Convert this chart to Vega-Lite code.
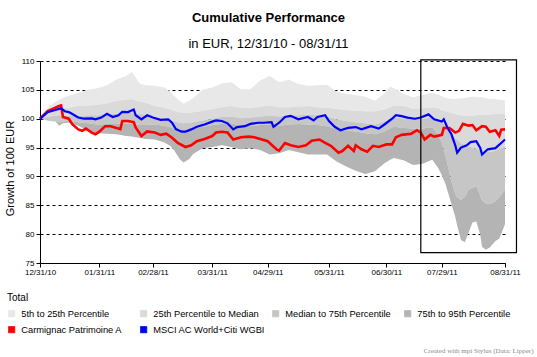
{
  "$schema": "https://vega.github.io/schema/vega-lite/v6.json",
  "width": 465,
  "height": 202,
  "autosize": "none",
  "padding": {"left": 40, "top": 61, "right": 32, "bottom": 94},
  "background": "white",
  "title": {
    "text": "Cumulative Performance",
    "subtitle": "in EUR, 12/31/10 - 08/31/11",
    "font": "Liberation Sans",
    "fontSize": 13,
    "fontWeight": "bold",
    "color": "black",
    "subtitleFont": "Liberation Sans",
    "subtitleFontSize": 13,
    "subtitleColor": "black",
    "anchor": "middle",
    "offset": 6,
    "subtitlePadding": 13,
    "dx": -4
  },
  "datasets": {
    "bands": [
      {"date": "2010-12-31", "p5": 100, "p25": 100, "p50": 100, "p75": 100, "p95": 100},
      {"date": "2011-01-05", "p5": 102.3, "p25": 101.0, "p50": 100.4, "p75": 99.7, "p95": 99.6},
      {"date": "2011-01-08", "p5": 102.9, "p25": 101.4, "p50": 100.5, "p75": 99.5, "p95": 99.5},
      {"date": "2011-01-10", "p5": 103.3, "p25": 101.6, "p50": 100.6, "p75": 99.4, "p95": 98.8},
      {"date": "2011-01-12", "p5": 103.6, "p25": 101.8, "p50": 100.5, "p75": 99.5, "p95": 99.2},
      {"date": "2011-01-15", "p5": 104.0, "p25": 101.9, "p50": 100.5, "p75": 99.6, "p95": 99.3},
      {"date": "2011-01-20", "p5": 104.5, "p25": 102.2, "p50": 100.5, "p75": 99.4, "p95": 98.8},
      {"date": "2011-01-25", "p5": 105.0, "p25": 102.3, "p50": 100.6, "p75": 99.2, "p95": 97.9},
      {"date": "2011-01-30", "p5": 105.3, "p25": 102.4, "p50": 100.6, "p75": 99.0, "p95": 97.5},
      {"date": "2011-02-04", "p5": 105.8, "p25": 102.7, "p50": 100.7, "p75": 99.1, "p95": 97.4},
      {"date": "2011-02-09", "p5": 106.8, "p25": 103.1, "p50": 100.9, "p75": 99.1, "p95": 97.3},
      {"date": "2011-02-14", "p5": 107.4, "p25": 103.3, "p50": 101.0, "p75": 99.2, "p95": 97.0},
      {"date": "2011-02-17", "p5": 108.1, "p25": 103.4, "p50": 101.0, "p75": 99.1, "p95": 96.9},
      {"date": "2011-02-19", "p5": 107.2, "p25": 103.2, "p50": 100.9, "p75": 99.0, "p95": 96.8},
      {"date": "2011-02-21", "p5": 106.1, "p25": 103.0, "p50": 100.8, "p75": 98.9, "p95": 96.7},
      {"date": "2011-02-24", "p5": 105.8, "p25": 102.8, "p50": 100.7, "p75": 98.9, "p95": 96.5},
      {"date": "2011-03-01", "p5": 105.7, "p25": 102.2, "p50": 100.2, "p75": 99.0, "p95": 96.4},
      {"date": "2011-03-06", "p5": 105.4, "p25": 101.9, "p50": 100.0, "p75": 98.8, "p95": 95.9},
      {"date": "2011-03-09", "p5": 104.7, "p25": 101.6, "p50": 99.7, "p75": 98.5, "p95": 95.3},
      {"date": "2011-03-11", "p5": 104.0, "p25": 101.4, "p50": 99.5, "p75": 98.3, "p95": 94.6},
      {"date": "2011-03-14", "p5": 103.1, "p25": 101.1, "p50": 99.3, "p75": 98.1, "p95": 93.0},
      {"date": "2011-03-16", "p5": 102.6, "p25": 101.0, "p50": 99.2, "p75": 98.0, "p95": 92.4},
      {"date": "2011-03-19", "p5": 103.1, "p25": 101.0, "p50": 99.3, "p75": 98.1, "p95": 93.0},
      {"date": "2011-03-21", "p5": 103.6, "p25": 101.1, "p50": 99.4, "p75": 98.2, "p95": 93.9},
      {"date": "2011-03-26", "p5": 105.0, "p25": 101.4, "p50": 99.7, "p75": 98.6, "p95": 94.9},
      {"date": "2011-03-31", "p5": 105.4, "p25": 101.7, "p50": 100.0, "p75": 98.9, "p95": 95.1},
      {"date": "2011-04-05", "p5": 106.1, "p25": 102.0, "p50": 100.3, "p75": 99.1, "p95": 95.4},
      {"date": "2011-04-10", "p5": 106.3, "p25": 102.2, "p50": 100.4, "p75": 99.2, "p95": 95.1},
      {"date": "2011-04-15", "p5": 105.1, "p25": 101.9, "p50": 100.1, "p75": 98.8, "p95": 94.7},
      {"date": "2011-04-20", "p5": 105.1, "p25": 101.8, "p50": 100.2, "p75": 98.8, "p95": 94.9},
      {"date": "2011-04-25", "p5": 106.6, "p25": 102.1, "p50": 100.4, "p75": 98.9, "p95": 94.6},
      {"date": "2011-04-30", "p5": 107.4, "p25": 102.3, "p50": 100.5, "p75": 99.0, "p95": 93.8},
      {"date": "2011-05-05", "p5": 106.3, "p25": 102.0, "p50": 100.4, "p75": 98.8, "p95": 94.0},
      {"date": "2011-05-10", "p5": 106.8, "p25": 102.0, "p50": 100.6, "p75": 99.0, "p95": 94.6},
      {"date": "2011-05-15", "p5": 106.0, "p25": 102.1, "p50": 100.6, "p75": 99.1, "p95": 94.2},
      {"date": "2011-05-20", "p5": 105.7, "p25": 102.2, "p50": 100.7, "p75": 99.0, "p95": 93.8},
      {"date": "2011-05-25", "p5": 105.8, "p25": 102.0, "p50": 100.6, "p75": 98.9, "p95": 93.8},
      {"date": "2011-05-30", "p5": 105.9, "p25": 101.9, "p50": 100.4, "p75": 98.7, "p95": 93.8},
      {"date": "2011-06-04", "p5": 104.7, "p25": 101.7, "p50": 99.9, "p75": 98.2, "p95": 92.6},
      {"date": "2011-06-09", "p5": 104.3, "p25": 101.5, "p50": 99.6, "p75": 97.9, "p95": 91.7},
      {"date": "2011-06-14", "p5": 104.1, "p25": 101.4, "p50": 99.4, "p75": 97.8, "p95": 91.0},
      {"date": "2011-06-19", "p5": 103.8, "p25": 101.3, "p50": 99.2, "p75": 97.5, "p95": 90.4},
      {"date": "2011-06-24", "p5": 103.1, "p25": 101.3, "p50": 99.0, "p75": 97.3, "p95": 90.9},
      {"date": "2011-06-29", "p5": 104.4, "p25": 101.6, "p50": 99.5, "p75": 97.8, "p95": 92.3},
      {"date": "2011-07-02", "p5": 105.6, "p25": 102.0, "p50": 99.9, "p75": 98.3, "p95": 92.9},
      {"date": "2011-07-04", "p5": 105.3, "p25": 102.3, "p50": 100.2, "p75": 98.6, "p95": 93.2},
      {"date": "2011-07-09", "p5": 104.3, "p25": 102.2, "p50": 100.1, "p75": 98.4, "p95": 92.8},
      {"date": "2011-07-14", "p5": 103.7, "p25": 101.7, "p50": 99.9, "p75": 98.3, "p95": 92.0},
      {"date": "2011-07-19", "p5": 104.1, "p25": 101.8, "p50": 100.0, "p75": 98.3, "p95": 92.2},
      {"date": "2011-07-24", "p5": 104.5, "p25": 102.0, "p50": 100.2, "p75": 98.5, "p95": 92.9},
      {"date": "2011-07-27", "p5": 104.2, "p25": 101.8, "p50": 99.8, "p75": 97.2, "p95": 91.5},
      {"date": "2011-07-29", "p5": 103.9, "p25": 101.5, "p50": 99.4, "p75": 95.8, "p95": 90.2},
      {"date": "2011-07-31", "p5": 103.6, "p25": 101.3, "p50": 98.8, "p75": 93.5, "p95": 88.6},
      {"date": "2011-08-03", "p5": 103.4, "p25": 101.0, "p50": 97.4, "p75": 89.1, "p95": 85.2},
      {"date": "2011-08-05", "p5": 103.4, "p25": 100.8, "p50": 96.6, "p75": 87.0, "p95": 83.0},
      {"date": "2011-08-06", "p5": 103.5, "p25": 100.7, "p50": 96.4, "p75": 86.4, "p95": 81.5},
      {"date": "2011-08-08", "p5": 103.5, "p25": 100.6, "p50": 95.8, "p75": 85.9, "p95": 79.0},
      {"date": "2011-08-10", "p5": 103.6, "p25": 100.5, "p50": 95.4, "p75": 86.5, "p95": 78.6},
      {"date": "2011-08-12", "p5": 103.7, "p25": 100.5, "p50": 95.2, "p75": 87.7, "p95": 80.3},
      {"date": "2011-08-14", "p5": 103.8, "p25": 100.5, "p50": 95.0, "p75": 88.0, "p95": 82.0},
      {"date": "2011-08-16", "p5": 103.8, "p25": 100.6, "p50": 94.8, "p75": 88.3, "p95": 82.2},
      {"date": "2011-08-18", "p5": 103.7, "p25": 100.7, "p50": 94.6, "p75": 86.8, "p95": 80.0},
      {"date": "2011-08-19", "p5": 103.7, "p25": 100.7, "p50": 94.4, "p75": 85.8, "p95": 77.8},
      {"date": "2011-08-21", "p5": 103.6, "p25": 100.7, "p50": 94.3, "p75": 85.3, "p95": 77.3},
      {"date": "2011-08-23", "p5": 103.4, "p25": 100.7, "p50": 94.2, "p75": 85.2, "p95": 77.7},
      {"date": "2011-08-26", "p5": 103.4, "p25": 100.8, "p50": 94.5, "p75": 85.7, "p95": 78.8},
      {"date": "2011-08-28", "p5": 103.3, "p25": 100.8, "p50": 94.8, "p75": 86.4, "p95": 79.2},
      {"date": "2011-08-31", "p5": 103.2, "p25": 100.8, "p50": 95.2, "p75": 87.7, "p95": 81.7}
    ],
    "fund": [
      {"date": "2010-12-31", "value": 100}, {"date": "2011-01-04", "value": 101.3}, {"date": "2011-01-08", "value": 101.9},
      {"date": "2011-01-10", "value": 102.2}, {"date": "2011-01-11", "value": 102.3}, {"date": "2011-01-12", "value": 100.3},
      {"date": "2011-01-15", "value": 100.0}, {"date": "2011-01-17", "value": 99.0}, {"date": "2011-01-20", "value": 98.15},
      {"date": "2011-01-22", "value": 97.9}, {"date": "2011-01-24", "value": 98.3}, {"date": "2011-01-27", "value": 97.6},
      {"date": "2011-01-29", "value": 97.3}, {"date": "2011-01-31", "value": 97.75}, {"date": "2011-02-03", "value": 98.7},
      {"date": "2011-02-06", "value": 98.7}, {"date": "2011-02-09", "value": 98.4}, {"date": "2011-02-11", "value": 98.2},
      {"date": "2011-02-12", "value": 99.6}, {"date": "2011-02-15", "value": 99.6}, {"date": "2011-02-18", "value": 99.4},
      {"date": "2011-02-19", "value": 98.5}, {"date": "2011-02-22", "value": 97.0}, {"date": "2011-02-25", "value": 97.8},
      {"date": "2011-03-01", "value": 97.6}, {"date": "2011-03-04", "value": 97.2}, {"date": "2011-03-07", "value": 97.4},
      {"date": "2011-03-10", "value": 96.7}, {"date": "2011-03-13", "value": 95.8}, {"date": "2011-03-17", "value": 95.1},
      {"date": "2011-03-20", "value": 95.4}, {"date": "2011-03-23", "value": 96.1}, {"date": "2011-03-27", "value": 96.5},
      {"date": "2011-03-31", "value": 97.0}, {"date": "2011-04-02", "value": 97.6}, {"date": "2011-04-05", "value": 97.75},
      {"date": "2011-04-08", "value": 97.6}, {"date": "2011-04-11", "value": 96.4}, {"date": "2011-04-15", "value": 96.8},
      {"date": "2011-04-19", "value": 96.9}, {"date": "2011-04-22", "value": 96.8}, {"date": "2011-04-26", "value": 96.4},
      {"date": "2011-04-29", "value": 96.1}, {"date": "2011-05-02", "value": 95.2}, {"date": "2011-05-04", "value": 94.6},
      {"date": "2011-05-05", "value": 94.5}, {"date": "2011-05-08", "value": 95.8}, {"date": "2011-05-11", "value": 95.4},
      {"date": "2011-05-15", "value": 95.1}, {"date": "2011-05-19", "value": 95.4}, {"date": "2011-05-22", "value": 96.2},
      {"date": "2011-05-26", "value": 96.4}, {"date": "2011-05-29", "value": 95.8}, {"date": "2011-06-01", "value": 95.3},
      {"date": "2011-06-05", "value": 94.1}, {"date": "2011-06-07", "value": 94.4}, {"date": "2011-06-10", "value": 95.3},
      {"date": "2011-06-13", "value": 94.4}, {"date": "2011-06-14", "value": 95.4}, {"date": "2011-06-17", "value": 94.7},
      {"date": "2011-06-20", "value": 94.3}, {"date": "2011-06-23", "value": 95.3}, {"date": "2011-06-26", "value": 95.1},
      {"date": "2011-06-30", "value": 95.55}, {"date": "2011-07-03", "value": 95.55}, {"date": "2011-07-05", "value": 96.8},
      {"date": "2011-07-08", "value": 97.2}, {"date": "2011-07-13", "value": 97.4}, {"date": "2011-07-16", "value": 98.0},
      {"date": "2011-07-18", "value": 97.6}, {"date": "2011-07-20", "value": 96.4}, {"date": "2011-07-23", "value": 97.2},
      {"date": "2011-07-25", "value": 96.9}, {"date": "2011-07-29", "value": 97.2}, {"date": "2011-07-30", "value": 98.4},
      {"date": "2011-08-02", "value": 98.4}, {"date": "2011-08-05", "value": 97.6}, {"date": "2011-08-07", "value": 97.9},
      {"date": "2011-08-09", "value": 99.1}, {"date": "2011-08-12", "value": 98.8}, {"date": "2011-08-14", "value": 98.9},
      {"date": "2011-08-16", "value": 98.0}, {"date": "2011-08-19", "value": 98.7}, {"date": "2011-08-21", "value": 98.6},
      {"date": "2011-08-23", "value": 97.75}, {"date": "2011-08-26", "value": 98.0}, {"date": "2011-08-28", "value": 97.0},
      {"date": "2011-08-29", "value": 98.1}, {"date": "2011-08-31", "value": 98.15}
    ],
    "index": [
      {"date": "2010-12-31", "value": 100}, {"date": "2011-01-04", "value": 101.15}, {"date": "2011-01-08", "value": 101.5},
      {"date": "2011-01-11", "value": 101.8}, {"date": "2011-01-13", "value": 101.3}, {"date": "2011-01-15", "value": 101.15},
      {"date": "2011-01-16", "value": 101.0}, {"date": "2011-01-20", "value": 100.2}, {"date": "2011-01-23", "value": 100.0},
      {"date": "2011-01-27", "value": 100.06}, {"date": "2011-01-29", "value": 99.9}, {"date": "2011-02-01", "value": 100.2},
      {"date": "2011-02-04", "value": 100.86}, {"date": "2011-02-07", "value": 100.3}, {"date": "2011-02-10", "value": 100.6},
      {"date": "2011-02-12", "value": 101.2}, {"date": "2011-02-15", "value": 101.15}, {"date": "2011-02-18", "value": 101.6},
      {"date": "2011-02-19", "value": 100.6}, {"date": "2011-02-22", "value": 99.9}, {"date": "2011-02-25", "value": 100.6},
      {"date": "2011-02-28", "value": 100.2}, {"date": "2011-03-04", "value": 99.8}, {"date": "2011-03-08", "value": 99.9},
      {"date": "2011-03-10", "value": 99.3}, {"date": "2011-03-12", "value": 98.2}, {"date": "2011-03-15", "value": 97.75},
      {"date": "2011-03-17", "value": 97.75}, {"date": "2011-03-20", "value": 98.15}, {"date": "2011-03-23", "value": 98.6},
      {"date": "2011-03-27", "value": 99.0}, {"date": "2011-03-31", "value": 99.5}, {"date": "2011-04-02", "value": 99.7},
      {"date": "2011-04-05", "value": 99.6}, {"date": "2011-04-08", "value": 99.2}, {"date": "2011-04-11", "value": 98.15},
      {"date": "2011-04-13", "value": 98.55}, {"date": "2011-04-17", "value": 98.7}, {"date": "2011-04-20", "value": 99.1},
      {"date": "2011-04-24", "value": 99.3}, {"date": "2011-04-27", "value": 99.3}, {"date": "2011-05-01", "value": 99.4},
      {"date": "2011-05-02", "value": 98.6}, {"date": "2011-05-05", "value": 99.3}, {"date": "2011-05-08", "value": 100.3},
      {"date": "2011-05-11", "value": 100.5}, {"date": "2011-05-15", "value": 99.9}, {"date": "2011-05-20", "value": 100.3},
      {"date": "2011-05-23", "value": 99.7}, {"date": "2011-05-25", "value": 100.3}, {"date": "2011-05-29", "value": 100.6},
      {"date": "2011-05-31", "value": 99.6}, {"date": "2011-06-03", "value": 98.6}, {"date": "2011-06-06", "value": 98.0},
      {"date": "2011-06-10", "value": 98.4}, {"date": "2011-06-14", "value": 98.55}, {"date": "2011-06-17", "value": 98.15},
      {"date": "2011-06-22", "value": 98.7}, {"date": "2011-06-26", "value": 98.3}, {"date": "2011-06-29", "value": 99.0},
      {"date": "2011-07-03", "value": 100.0}, {"date": "2011-07-05", "value": 100.6}, {"date": "2011-07-08", "value": 100.45},
      {"date": "2011-07-11", "value": 100.2}, {"date": "2011-07-15", "value": 100.0}, {"date": "2011-07-18", "value": 100.2},
      {"date": "2011-07-22", "value": 100.75}, {"date": "2011-07-25", "value": 99.9}, {"date": "2011-07-29", "value": 99.5},
      {"date": "2011-07-30", "value": 99.9}, {"date": "2011-08-01", "value": 98.4}, {"date": "2011-08-03", "value": 97.3},
      {"date": "2011-08-05", "value": 95.4}, {"date": "2011-08-06", "value": 94.1}, {"date": "2011-08-08", "value": 95.0},
      {"date": "2011-08-11", "value": 95.4}, {"date": "2011-08-13", "value": 95.95}, {"date": "2011-08-16", "value": 96.1},
      {"date": "2011-08-18", "value": 95.0}, {"date": "2011-08-19", "value": 93.8}, {"date": "2011-08-22", "value": 94.7},
      {"date": "2011-08-26", "value": 94.9}, {"date": "2011-08-29", "value": 95.8}, {"date": "2011-08-31", "value": 96.4}
    ],
    "box": [
      {"date": "2011-07-18", "end": "2011-09-06", "top": 110.2, "bottom": 76.8}
    ]
  },
  "encoding": {
    "x": {
      "field": "date",
      "type": "temporal",
      "scale": {
        "type": "utc",
        "domain": [
          {"year": 2010, "month": 12, "date": 31, "utc": true},
          {"year": 2011, "month": 8, "date": 31, "utc": true}
        ]
      },
      "axis": {
        "values": [
          {"year": 2010, "month": 12, "date": 31, "utc": true},
          {"year": 2011, "month": 1, "date": 31, "utc": true},
          {"year": 2011, "month": 2, "date": 28, "utc": true},
          {"year": 2011, "month": 3, "date": 31, "utc": true},
          {"year": 2011, "month": 4, "date": 29, "utc": true},
          {"year": 2011, "month": 5, "date": 31, "utc": true},
          {"year": 2011, "month": 6, "date": 30, "utc": true},
          {"year": 2011, "month": 7, "date": 29, "utc": true},
          {"year": 2011, "month": 8, "date": 31, "utc": true}
        ],
        "format": "%m/%d/%y",
        "grid": false,
        "labelAngle": 0,
        "labelFontSize": 8,
        "labelColor": "black",
        "labelOverlap": false,
        "labelFlush": false,
        "labelPadding": 1,
        "tickSize": 4,
        "tickColor": "black",
        "domainColor": "black",
        "title": "Created with mpi Stylus (Data: Lipper)",
        "titleFont": "Liberation Serif",
        "titleFontSize": 7,
        "titleFontWeight": "normal",
        "titleColor": "#8c8c8c",
        "titleAlign": "right",
        "titleBaseline": "alphabetic",
        "titleX": 493,
        "titleY": 89
      }
    }
  },
  "layer": [
    {
      "data": {"name": "bands"},
      "mark": {"type": "area"},
      "encoding": {
        "y": {
          "field": "p5",
          "type": "quantitative",
          "title": "Growth of 100 EUR",
          "scale": {"domain": [75, 110], "nice": false, "zero": false},
          "axis": {
            "values": [75, 80, 85, 90, 95, 100, 105, 110],
            "tickCount": 8,
            "labelOverlap": false,
            "grid": true,
            "gridColor": "black",
            "gridDash": [3, 3],
            "gridOpacity": 1,
            "gridWidth": 1,
            "tickSize": 4,
            "tickColor": "black",
            "domainColor": "black",
            "labelFontSize": 8,
            "labelColor": "black",
            "labelPadding": 2,
            "titleFontSize": 11,
            "titleFontWeight": "normal",
            "titleColor": "black",
            "titlePadding": 5,
            "titleY": 107
          }
        },
        "y2": {"field": "p25"},
        "color": {
          "datum": "5th to 25th Percentile",
          "type": "nominal",
          "scale": {
            "domain": ["5th to 25th Percentile", "25th Percentile to Median", "Median to 75th Percentile", "75th to 95th Percentile", "Carmignac Patrimoine A", "MSCI AC World+Citi WGBI"],
            "range": ["#e8e8e8", "#dadada", "#c6c6c6", "#b4b4b4", "#ff0000", "#0000ff"]
          },
          "legend": {
            "orient": "none",
            "legendX": -33,
            "legendY": 232,
            "title": "Total",
            "titleFontSize": 10,
            "titleFontWeight": "normal",
            "titleColor": "black",
            "titlePadding": 6,
            "direction": "horizontal",
            "columns": 4,
            "gridAlign": "all",
            "columnPadding": 6,
            "rowPadding": 6,
            "symbolType": "square",
            "symbolSize": 40,
            "symbolStrokeColor": "black",
            "symbolStrokeWidth": 0.7,
            "labelFontSize": 9.3,
            "labelColor": "black",
            "labelOffset": 5,
            "labelLimit": 0,
            "encode": {
              "symbols": {"update": {"stroke": {"value": "black"}, "strokeWidth": {"value": 0.7}}}
            }
          }
        }
      }
    },
    {
      "data": {"name": "bands"},
      "mark": {"type": "area"},
      "encoding": {
        "y": {"field": "p25", "type": "quantitative", "title": "Growth of 100 EUR"},
        "y2": {"field": "p50"},
        "color": {"datum": "25th Percentile to Median", "type": "nominal"}
      }
    },
    {
      "data": {"name": "bands"},
      "mark": {"type": "area"},
      "encoding": {
        "y": {"field": "p50", "type": "quantitative", "title": "Growth of 100 EUR"},
        "y2": {"field": "p75"},
        "color": {"datum": "Median to 75th Percentile", "type": "nominal"}
      }
    },
    {
      "data": {"name": "bands"},
      "mark": {"type": "area"},
      "encoding": {
        "y": {"field": "p75", "type": "quantitative", "title": "Growth of 100 EUR"},
        "y2": {"field": "p95"},
        "color": {"datum": "75th to 95th Percentile", "type": "nominal"}
      }
    },
    {
      "data": {"name": "fund"},
      "mark": {"type": "line", "strokeWidth": 2.6},
      "encoding": {
        "y": {"field": "value", "type": "quantitative", "title": "Growth of 100 EUR"},
        "color": {"datum": "Carmignac Patrimoine A", "type": "nominal"}
      }
    },
    {
      "data": {"name": "index"},
      "mark": {"type": "line", "strokeWidth": 2.2},
      "encoding": {
        "y": {"field": "value", "type": "quantitative", "title": "Growth of 100 EUR"},
        "color": {"datum": "MSCI AC World+Citi WGBI", "type": "nominal"}
      }
    },
    {
      "data": {"name": "box"},
      "mark": {"type": "rect", "fillOpacity": 0, "stroke": "black", "strokeWidth": 1.2},
      "encoding": {
        "x2": {"field": "end"},
        "y": {"field": "top", "type": "quantitative", "title": "Growth of 100 EUR"},
        "y2": {"field": "bottom"}
      }
    }
  ],
  "config": {
    "font": "Liberation Sans",
    "view": {"stroke": null},
    "axisY": {"labelOverlap": false}
  }
}
